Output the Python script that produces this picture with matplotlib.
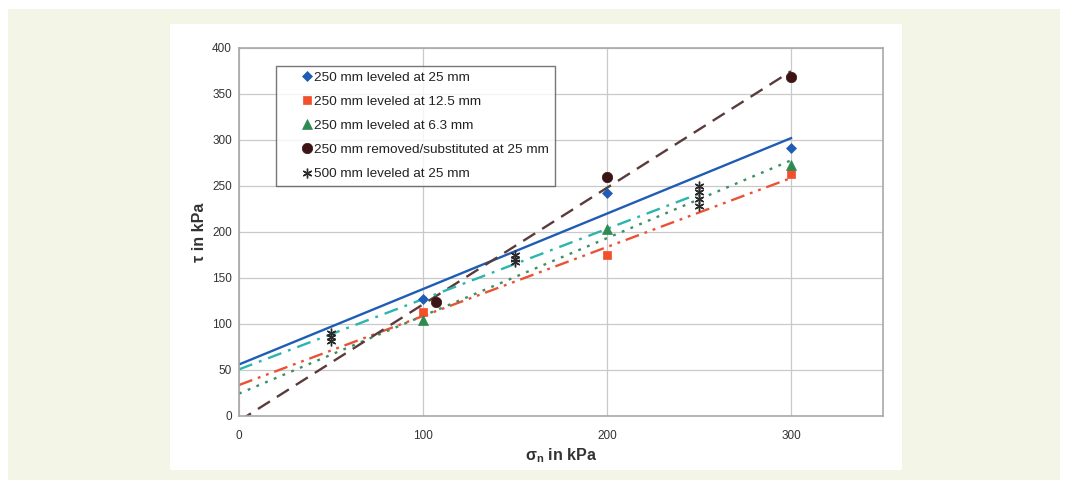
import numpy as np
import matplotlib.pyplot as plt
from matplotlib.patches import Rectangle

plt.rcParams["font.family"] = ["Liberation Sans", "DejaVu Sans"]

# direct shear tests: normal stress vs. peak shear stress (kPa)
sigma_25 = [100, 200, 300]
tau_25 = [127, 242, 291]

sigma_125 = [100, 200, 300]
tau_125 = [113, 175, 263]

sigma_63 = [100, 200, 300]
tau_63 = [104, 203, 273]

sigma_sub = [107, 200, 300]
tau_sub = [124, 260, 369]

sigma_500 = [50, 50, 50, 150, 150, 150, 250, 250, 250, 250]
tau_500 = [82, 86, 90, 167, 171, 175, 228, 236, 244, 250]

labels = [
    "250 mm leveled at 25 mm",
    "250 mm leveled at 12.5 mm",
    "250 mm leveled at 6.3 mm",
    "250 mm removed/substituted at 25 mm",
    "500 mm leveled at 25 mm",
]

series = [
    # x, y, label, marker, size, colour, line style, line colour, trend end
    (sigma_25, tau_25, labels[0], "D", 5, "#1f5db5", "-", "#1f5db5", 300),
    (sigma_125, tau_125, labels[1], "s", 6, "#f2502a", (0, (6, 2.5, 1.2, 2.5, 1.2, 2.5)), "#ea5236", 300),
    (sigma_63, tau_63, labels[2], "^", 6.5, "#2e8b4f", (0, (1.2, 2.8)), "#3d8f63", 300),
    (sigma_sub, tau_sub, labels[3], "o", 7.5, "#3d1414", (0, (6, 3.5)), "#5a3b3b", 300),
    (sigma_500, tau_500, labels[4], (6, 2, 0), 7, "#2a2a2a", (0, (6, 3, 1.2, 3)), "#2bb5ad", 250),
]

fig = plt.figure(figsize=(10.66, 4.82), dpi=100)
fig.patch.set_facecolor("white")
fig.patches.append(Rectangle((8 / 1066, 2 / 482), 1052 / 1066, 471 / 482,
                             transform=fig.transFigure, facecolor="#f3f6e7",
                             edgecolor="none", zorder=-10))
fig.patches.append(Rectangle((170 / 1066, 12 / 482), 732 / 1066, 446 / 482,
                             transform=fig.transFigure, facecolor="white",
                             edgecolor="none", zorder=-9))

ax = fig.add_axes([239 / 1066, 66 / 482, 644 / 1066, 368 / 482])
ax.set_facecolor("white")

for x, y, lab, mk, ms, col, ls, lcol, xend in series:
    # least-squares trend line, extended back to zero stress
    k, b = np.polyfit(x, y, 1)
    xs = np.array([0, xend])
    ax.plot(xs, k * xs + b, linestyle=ls, color=lcol, lw=1.7, zorder=2)

for x, y, lab, mk, ms, col, ls, lcol, xend in series:
    mew = 1.0 if mk == (6, 2, 0) else 0.5
    ax.plot(x, y, linestyle="none", marker=mk, markersize=ms, color=col,
            markeredgecolor=col, markeredgewidth=mew, label=lab, zorder=3)

ax.set_xlim(0, 350)
ax.set_ylim(0, 400)
ax.set_xticks([0, 100, 200, 300])
ax.set_yticks(np.arange(0, 401, 50))
ax.grid(True, color="#c9c9c9", lw=0.9, zorder=0)
ax.set_axisbelow(True)
for s in ax.spines.values():
    s.set_color("#a8a8a8")
    s.set_linewidth(1.2)
ax.tick_params(axis="both", length=0, labelsize=8.5, labelcolor="#333333")
ax.tick_params(axis="y", pad=5)
ax.tick_params(axis="x", pad=10)

ax.set_xlabel(r"σ$_{\mathregular{n}}$ in kPa", fontsize=11.5, fontweight="bold",
              color="#333333", labelpad=3)
ax.set_ylabel("τ in kPa", fontsize=11.5, fontweight="bold", color="#333333",
              labelpad=4)

leg = ax.legend(loc="upper left", bbox_to_anchor=(0.057, 0.952), fontsize=9.7,
                frameon=True, fancybox=False, handlelength=3.7, handletextpad=-1.3,
                borderpad=0.45, labelspacing=0.86, borderaxespad=0)
leg.get_frame().set_edgecolor("#555555")
leg.get_frame().set_linewidth(1.0)
for t in leg.get_texts():
    t.set_color("#222222")

fig.savefig("out.png", dpi=100)
